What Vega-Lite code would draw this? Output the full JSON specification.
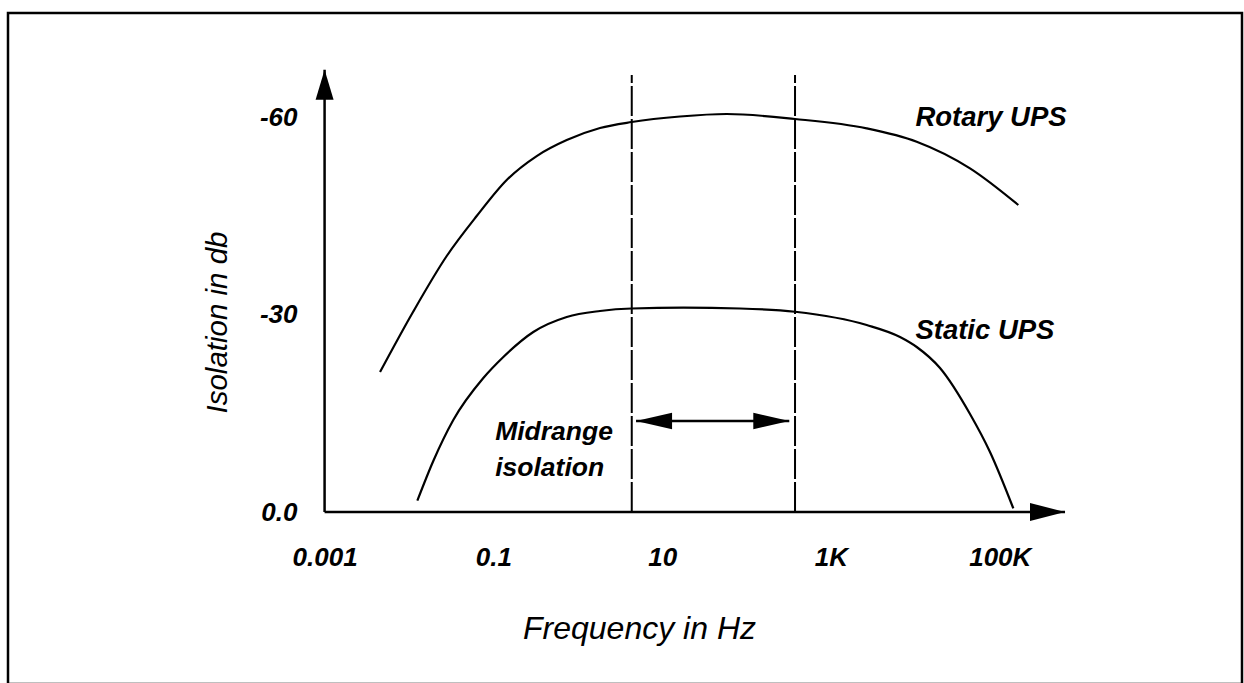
{
  "$schema": "https://vega.github.io/schema/vega-lite/v6.json",
  "width": 1234,
  "height": 671,
  "autosize": {"type": "none"},
  "padding": {"left": 8, "top": 13, "right": 2, "bottom": -1},
  "background": "white",
  "config": {
    "view": {"stroke": "black", "strokeWidth": 2.5},
    "font": "Liberation Sans"
  },
  "datasets": {
    "curves": [
      {"series": "Rotary UPS", "freq": 0.00454, "db": -21.28},
      {"series": "Rotary UPS", "freq": 0.01116, "db": -30.4},
      {"series": "Rotary UPS", "freq": 0.028, "db": -38.91},
      {"series": "Rotary UPS", "freq": 0.0634, "db": -44.98},
      {"series": "Rotary UPS", "freq": 0.1439, "db": -50.46},
      {"series": "Rotary UPS", "freq": 0.326, "db": -54.1},
      {"series": "Rotary UPS", "freq": 0.74, "db": -56.53},
      {"series": "Rotary UPS", "freq": 1.833, "db": -58.36},
      {"series": "Rotary UPS", "freq": 4.35, "db": -59.27},
      {"series": "Rotary UPS", "freq": 16.26, "db": -60.11},
      {"series": "Rotary UPS", "freq": 58.1, "db": -60.49},
      {"series": "Rotary UPS", "freq": 375, "db": -59.73},
      {"series": "Rotary UPS", "freq": 2649, "db": -58.31},
      {"series": "Rotary UPS", "freq": 10370, "db": -56.28},
      {"series": "Rotary UPS", "freq": 44380, "db": -52.23},
      {"series": "Rotary UPS", "freq": 165900, "db": -46.66},
      {"series": "Static UPS", "freq": 0.01256, "db": -1.72},
      {"series": "Static UPS", "freq": 0.01941, "db": -7.75},
      {"series": "Static UPS", "freq": 0.0335, "db": -13.98},
      {"series": "Static UPS", "freq": 0.076, "db": -20.36},
      {"series": "Static UPS", "freq": 0.1312, "db": -23.56},
      {"series": "Static UPS", "freq": 0.2972, "db": -27.36},
      {"series": "Static UPS", "freq": 0.74, "db": -29.64},
      {"series": "Static UPS", "freq": 1.833, "db": -30.55},
      {"series": "Static UPS", "freq": 4.35, "db": -30.93},
      {"series": "Static UPS", "freq": 17.8, "db": -31.05},
      {"series": "Static UPS", "freq": 83.6, "db": -30.93},
      {"series": "Static UPS", "freq": 375, "db": -30.44},
      {"series": "Static UPS", "freq": 2649, "db": -28.42},
      {"series": "Static UPS", "freq": 6577, "db": -26.6},
      {"series": "Static UPS", "freq": 10370, "db": -25.08},
      {"series": "Static UPS", "freq": 19580, "db": -21.88},
      {"series": "Static UPS", "freq": 44380, "db": -14.89},
      {"series": "Static UPS", "freq": 76560, "db": -9.12},
      {"series": "Static UPS", "freq": 144600, "db": -0.56}
    ],
    "axes": [
      {"freq": 0.001, "freq2": 593000, "db": 0, "db2": 0},
      {"freq": 0.001, "freq2": 0.001, "db": 0, "db2": -67.2}
    ],
    "bounds": [
      {"freq": 4.36, "db": 0, "db2": -66.4},
      {"freq": 375, "db": 0, "db2": -66.4}
    ],
    "span": [
      {"freq": 4.9, "freq2": 320.6, "db": -13.83}
    ],
    "heads": [
      {"freq": 0.001, "db": -67.2, "dir": "up"},
      {"freq": 593000, "db": 0, "dir": "right"},
      {"freq": 4.9, "db": -13.83, "dir": "left"},
      {"freq": 320.6, "db": -13.83, "dir": "mright"}
    ],
    "curveLabels": [
      {"freq": 10000, "db": -58.66, "text": "Rotary UPS"},
      {"freq": 10000, "db": -26.25, "text": "Static UPS"}
    ],
    "noteLabels": [
      {"freq": 0.105, "db": -10.94, "text": "Midrange"},
      {"freq": 0.105, "db": -5.47, "text": "isolation"}
    ]
  },
  "layer": [
    {
      "data": {"name": "curves"},
      "mark": {"type": "line", "interpolate": "monotone", "color": "black", "strokeWidth": 2.2},
      "encoding": {
        "x": {
          "field": "freq", "type": "quantitative",
          "scale": {"type": "log", "domain": [1.774e-7, 7.413e7], "nice": false},
          "axis": {
            "values": [0.001, 0.1, 10, 1000, 100000],
            "labelExpr": "datum.value == 1000 ? '1K' : datum.value == 100000 ? '100K' : toString(datum.value)",
            "title": "Frequency in Hz",
            "domain": false, "ticks": false, "tickSize": 0, "grid": false,
            "offset": -172,
            "labelPadding": 53, "labelBaseline": "alphabetic",
            "labelFont": "Liberation Sans", "labelFontSize": 26, "labelFontWeight": "bold", "labelFontStyle": "italic",
            "labelColor": "black", "labelFlush": false, "labelOverlap": false,
            "titleFont": "Liberation Sans", "titleFontSize": 32, "titleFontStyle": "italic", "titleFontWeight": "normal",
            "titleColor": "black", "titleX": 631, "titleY": 126, "titleBaseline": "alphabetic", "titleAlign": "center"
          }
        },
        "y": {
          "field": "db", "type": "quantitative",
          "scale": {"domain": [26.14, -75.84], "nice": false, "zero": false},
          "axis": {
            "values": [-60, -30, 0],
            "labelExpr": "datum.value == 0 ? '0.0' : toString(datum.value)",
            "title": "Isolation in db",
            "domain": false, "ticks": false, "tickSize": 0, "grid": false,
            "offset": -317,
            "labelPadding": 28, "labelBaseline": "middle",
            "labelFont": "Liberation Sans", "labelFontSize": 26, "labelFontWeight": "bold", "labelFontStyle": "italic",
            "labelColor": "black", "labelFlush": false, "labelOverlap": false,
            "titleFont": "Liberation Sans", "titleFontSize": 29.5, "titleFontStyle": "italic", "titleFontWeight": "normal",
            "titleColor": "black", "titleX": -99, "titleY": 309, "titleAngle": 270, "titleBaseline": "alphabetic", "titleAlign": "center"
          }
        },
        "detail": {"field": "series", "type": "nominal"}
      }
    },
    {
      "data": {"name": "axes"},
      "mark": {"type": "rule", "color": "black", "strokeWidth": 2.5},
      "encoding": {
        "x": {"field": "freq", "type": "quantitative", "scale": {"type": "log", "domain": [1.774e-7, 7.413e7], "nice": false}},
        "x2": {"field": "freq2"},
        "y": {"field": "db", "type": "quantitative", "scale": {"domain": [26.14, -75.84], "nice": false, "zero": false}},
        "y2": {"field": "db2"}
      }
    },
    {
      "data": {"name": "bounds"},
      "mark": {"type": "rule", "color": "black", "strokeWidth": 2, "strokeDash": [30, 3]},
      "encoding": {
        "x": {"field": "freq", "type": "quantitative", "scale": {"type": "log", "domain": [1.774e-7, 7.413e7], "nice": false}},
        "y": {"field": "db", "type": "quantitative", "scale": {"domain": [26.14, -75.84], "nice": false, "zero": false}},
        "y2": {"field": "db2"}
      }
    },
    {
      "data": {"name": "span"},
      "mark": {"type": "rule", "color": "black", "strokeWidth": 2.5},
      "encoding": {
        "x": {"field": "freq", "type": "quantitative", "scale": {"type": "log", "domain": [1.774e-7, 7.413e7], "nice": false}},
        "x2": {"field": "freq2"},
        "y": {"field": "db", "type": "quantitative", "scale": {"domain": [26.14, -75.84], "nice": false, "zero": false}}
      }
    },
    {
      "data": {"name": "heads"},
      "mark": {"type": "point", "filled": true, "color": "black", "opacity": 1, "size": 400, "strokeWidth": 0},
      "encoding": {
        "x": {"field": "freq", "type": "quantitative", "scale": {"type": "log", "domain": [1.774e-7, 7.413e7], "nice": false}},
        "y": {"field": "db", "type": "quantitative", "scale": {"domain": [26.14, -75.84], "nice": false, "zero": false}},
        "shape": {
          "field": "dir", "type": "nominal", "legend": null,
          "scale": {
            "domain": ["up", "right", "left", "mright"],
            "range": ["M0,0L-0.9,3L0.9,3Z", "M0,0L-3.5,-0.9L-3.5,0.9Z", "M0,0L3.6,-0.83L3.6,0.83Z", "M0,0L-3.6,-0.83L-3.6,0.83Z"]
          }
        }
      }
    },
    {
      "data": {"name": "curveLabels"},
      "mark": {"type": "text", "font": "Liberation Sans", "fontSize": 27.5, "fontStyle": "italic", "fontWeight": "bold", "align": "left", "baseline": "alphabetic", "color": "black"},
      "encoding": {
        "x": {"field": "freq", "type": "quantitative", "scale": {"type": "log", "domain": [1.774e-7, 7.413e7], "nice": false}},
        "y": {"field": "db", "type": "quantitative", "scale": {"domain": [26.14, -75.84], "nice": false, "zero": false}},
        "text": {"field": "text"}
      }
    },
    {
      "data": {"name": "noteLabels"},
      "mark": {"type": "text", "font": "Liberation Sans", "fontSize": 26.5, "fontStyle": "italic", "fontWeight": "bold", "align": "left", "baseline": "alphabetic", "color": "black"},
      "encoding": {
        "x": {"field": "freq", "type": "quantitative", "scale": {"type": "log", "domain": [1.774e-7, 7.413e7], "nice": false}},
        "y": {"field": "db", "type": "quantitative", "scale": {"domain": [26.14, -75.84], "nice": false, "zero": false}},
        "text": {"field": "text"}
      }
    }
  ]
}
